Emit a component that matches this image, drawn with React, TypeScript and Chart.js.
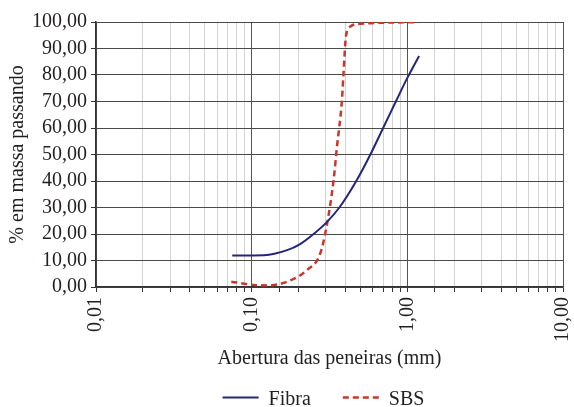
import React, { useEffect, useRef } from 'react';
import { Chart, registerables } from 'chart.js';
Chart.register(...registerables);

const fibraX = [0.075, 0.12, 0.169, 0.206, 0.25, 0.304, 0.366, 0.47, 0.579, 0.699, 0.844, 1.0, 1.19];
const fibraY = [11.9, 12.0, 13.9, 16.3, 20.0, 24.5, 30.0, 40.0, 50.0, 60.0, 70.0, 78.9, 87.2];
const sbsX = [0.074, 0.103, 0.126, 0.169, 0.227, 0.276, 0.306, 0.336, 0.353, 0.38, 0.389, 0.404, 0.431, 0.5, 1.04, 1.19];
const sbsY = [2.0, 0.8, 0.6, 2.0, 6.4, 12.7, 24.3, 40.3, 52.8, 70.4, 80.5, 94.9, 98.3, 99.3, 99.9, 100];
const seriesNames = ['Fibra', 'SBS'];
const xTitle = 'Abertura das peneiras (mm)';
const yTitle = '% em massa passando';

const FONT = '"Liberation Serif", "Times New Roman", serif';
const TEXT = '#231f20';
const isMajor = (v: number) => {
  const l = Math.log10(v);
  return Math.abs(l - Math.round(l)) < 1e-6;
};
const fmt = (v: number) => v.toFixed(2).replace('.', ',');

const legendPlugin = {
  id: 'lineLegend',
  afterDraw(chart: any) {
    const ctx = chart.ctx as CanvasRenderingContext2D;
    const ca = chart.chartArea;
    ctx.save();
    ctx.font = `20px ${FONT}`;
    const items = chart.data.datasets.map((ds: any) => ({
      label: ds.label as string,
      color: ds.borderColor as string,
      dash: (ds.borderDash || []) as number[],
      width: ds.borderWidth as number,
    }));
    const lineW = 36;
    const gapText = 10;
    const gapItem = 32;
    const widths = items.map((it: any) => ctx.measureText(it.label).width);
    let total = 0;
    items.forEach((_: any, i: number) => {
      total += lineW + gapText + widths[i] + (i < items.length - 1 ? gapItem : 0);
    });
    let x = (ca.left + ca.right) / 2 - total / 2 - 6;
    const yLine = chart.height - 9.5;
    const yText = chart.height - 2;
    items.forEach((it: any, i: number) => {
      ctx.beginPath();
      ctx.strokeStyle = it.color;
      ctx.lineWidth = it.width;
      ctx.setLineDash(it.dash);
      ctx.moveTo(x, yLine);
      ctx.lineTo(x + lineW, yLine);
      ctx.stroke();
      ctx.setLineDash([]);
      ctx.fillStyle = TEXT;
      ctx.textBaseline = 'alphabetic';
      ctx.textAlign = 'left';
      ctx.fillText(it.label, x + lineW + gapText, yText);
      x += lineW + gapText + widths[i] + gapItem;
    });
    ctx.restore();
  },
};

export default function App() {
  const ref = useRef<HTMLCanvasElement | null>(null);
  useEffect(() => {
    document.body.style.margin = '0';
    const chart = new Chart(ref.current!, {
      type: 'line',
      data: {
        datasets: [
          {
            label: seriesNames[0],
            data: fibraX.map((x, i) => ({ x, y: fibraY[i] })),
            borderColor: '#24267a',
            backgroundColor: '#24267a',
            borderWidth: 2,
            pointRadius: 0,
            cubicInterpolationMode: 'monotone',
          },
          {
            label: seriesNames[1],
            data: sbsX.map((x, i) => ({ x, y: sbsY[i] })),
            borderColor: '#c9362b',
            backgroundColor: '#c9362b',
            borderWidth: 2.5,
            borderDash: [6, 4],
            pointRadius: 0,
            cubicInterpolationMode: 'monotone',
          },
        ],
      },
      plugins: [legendPlugin],
      options: {
        animation: false,
        responsive: true,
        maintainAspectRatio: false,
        layout: { padding: { left: 6, right: 0, top: 22, bottom: 36 } },
        plugins: {
          tooltip: { enabled: false },
          legend: { display: false },
        },
        scales: {
          x: {
            type: 'logarithmic',
            min: 0.01,
            max: 10,
            afterFit: (s: any) => {
              s.height = 84;
              s.paddingRight = 11;
              s.paddingLeft = 0;
            },
            grid: {
              color: (c: any) => (c.tick && isMajor(c.tick.value) ? '#555' : '#d2d2ce'),
              tickColor: '#333',
              tickLength: 5,
              lineWidth: 1,
            },
            border: { color: '#333', width: 1.5 },
            ticks: {
              autoSkip: false,
              minRotation: 90,
              maxRotation: 90,
              padding: 5,
              color: TEXT,
              font: { family: FONT, size: 20, lineHeight: 1 },
              callback: (v: any) => (isMajor(Number(v)) ? fmt(Number(v)) : ''),
            },
            title: {
              display: true,
              text: xTitle,
              color: TEXT,
              font: { family: FONT, size: 20 },
              padding: { top: 0, bottom: 0 },
            },
          },
          y: {
            min: 0,
            max: 100,
            afterFit: (s: any) => {
              s.width = 90;
            },
            grid: { color: '#4a4a4a', tickColor: '#333', tickLength: 5, lineWidth: 1 },
            border: { color: '#333', width: 1.5 },
            ticks: {
              stepSize: 10,
              autoSkip: false,
              padding: 4,
              color: TEXT,
              font: { family: FONT, size: 20 },
              callback: (v: any) => fmt(Number(v)),
            },
            title: {
              display: true,
              text: yTitle,
              color: TEXT,
              font: { family: FONT, size: 20 },
              padding: { top: 0, bottom: 0 },
            },
          },
        },
      },
    });
    return () => chart.destroy();
  }, []);
  return (
    <div style={{ position: 'absolute', left: 0, top: 0, width: 574, height: 407 }}>
      <canvas ref={ref} />
    </div>
  );
}
